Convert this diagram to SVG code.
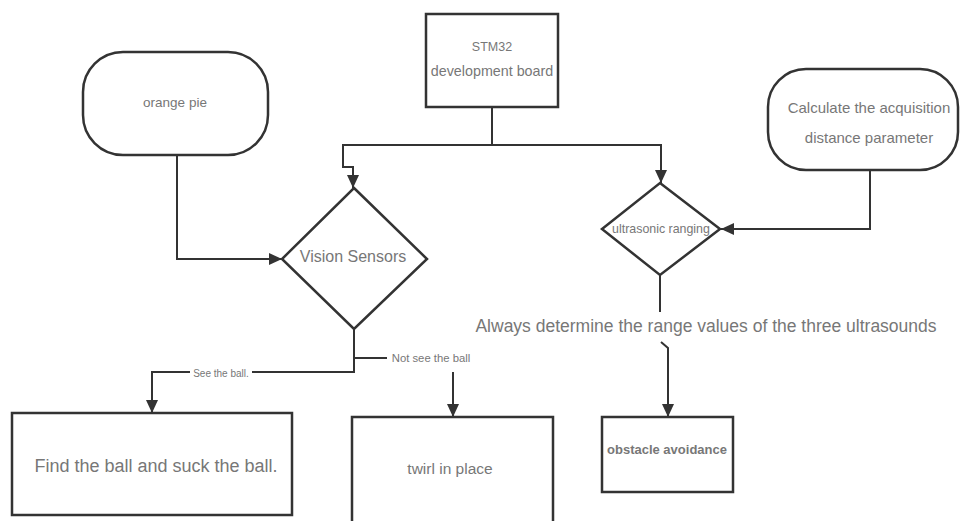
<svg xmlns="http://www.w3.org/2000/svg" width="960" height="521" viewBox="0 0 960 521">
<defs>
<marker id="arr" markerUnits="userSpaceOnUse" markerWidth="14" markerHeight="12" refX="13" refY="6" orient="auto">
<path d="M0,0 L13,6 L0,12 Z" fill="#333"/>
</marker>
<style>
.box{fill:#fff;stroke:#333;stroke-width:2.5}
.ln{fill:none;stroke:#333;stroke-width:2}
.t{font-family:"Liberation Sans",Arial,sans-serif;fill:#777;text-anchor:middle;dominant-baseline:central}
</style>
</defs>
<rect width="960" height="521" fill="#fff"/>
<g id="connectors">
<path class="ln" d="M492,107 V145 H343 V167 H353 V188" marker-end="url(#arr)"/>
<path class="ln" d="M492,145 H661 V183" marker-end="url(#arr)"/>
<path class="ln" d="M177,155 V259 H282" marker-end="url(#arr)"/>
<path class="ln" d="M870,170 V229 H721" marker-end="url(#arr)"/>
<path class="ln" d="M660,275 V312"/>
<path class="ln" d="M661,342 L668,348 V417" marker-end="url(#arr)"/>
<path class="ln" d="M354,329 V372 H252 M190,372 H152 V413" marker-end="url(#arr)"/>
<path class="ln" d="M354,358 H387"/>
<path class="ln" d="M453,372 V417" marker-end="url(#arr)"/>
<text class="t" x="221" y="373" font-size="10">See the ball.</text>
<text class="t" x="431" y="358" font-size="11.3">Not see the ball</text>
<text class="t" x="706" y="326" font-size="17.5">Always determine the range values of the three ultrasounds</text>
</g>
<g id="stm32">
<rect class="box" x="426" y="14" width="132" height="93"/>
<text class="t" x="492" y="47" font-size="12.5">STM32</text>
<text class="t" x="492" y="71" font-size="14.3">development board</text>
</g>
<g id="orange-pie">
<rect class="box" x="83" y="52" width="185" height="103" rx="40" ry="40"/>
<text class="t" x="175" y="102" font-size="13.5">orange pie</text>
</g>
<g id="calc">
<rect class="box" x="768" y="69" width="190" height="101" rx="38" ry="38"/>
<text class="t" x="869" y="107" font-size="15">Calculate the acquisition</text>
<text class="t" x="869" y="137" font-size="15">distance parameter</text>
</g>
<g id="vision">
<polygon class="box" points="354,188 427,259 354,329 282,259"/>
<text class="t" x="353" y="256" font-size="16">Vision Sensors</text>
</g>
<g id="ultrasonic">
<polygon class="box" points="660,183 720,229 660,275 602,229"/>
<text class="t" x="661" y="229" font-size="12.4">ultrasonic ranging</text>
</g>
<g id="find-ball">
<rect class="box" x="12" y="413" width="280" height="102"/>
<text class="t" x="156" y="466" font-size="18">Find the ball and suck the ball.</text>
</g>
<g id="twirl">
<rect class="box" x="352" y="417" width="201" height="108"/>
<text class="t" x="450" y="468" font-size="15.5">twirl in place</text>
</g>
<g id="obstacle">
<rect class="box" x="602" y="417" width="131" height="75"/>
<text class="t" x="667" y="449" font-size="13" font-weight="bold">obstacle avoidance</text>
</g>
</svg>
